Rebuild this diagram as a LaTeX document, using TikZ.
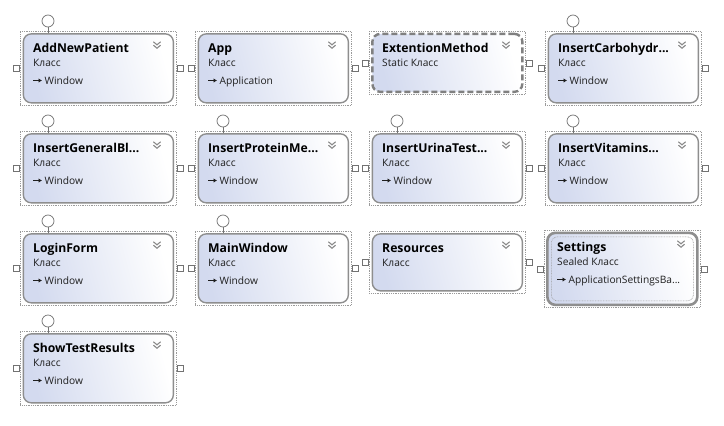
\documentclass[tikz,border=0pt]{standalone}
\usepackage{fontspec}
\setmainfont{Open Sans}
\usetikzlibrary{arrows.meta}
\definecolor{bordergray}{HTML}{8E8E8E}
\definecolor{dotgray}{HTML}{9A9A9A}
\definecolor{fillblue}{HTML}{D3DAEF}
\definecolor{txtgray}{HTML}{1E1E1E}
\definecolor{chevgray}{HTML}{8A8A8A}
\tikzset{
  outerbox/.style={draw=dotgray, line width=0.7pt, dash pattern=on 0.9pt off 0.9pt, minimum width=156pt, inner sep=0pt, anchor=north west},
  innerbox/.style={draw=bordergray, line width=1.4pt, rounded corners=8pt, left color=fillblue, right color=white, shading angle=105, minimum width=150pt, inner sep=0pt},
  dashbox/.style={line width=2.4pt, dash pattern=on 6pt off 3pt, draw=bordergray!90!black},
  sealbox/.style={line width=2.6pt, draw=bordergray},
  titletxt/.style={font=\bfseries\fontsize{12.2}{14}\selectfont, text=black, anchor=base west, inner sep=0pt},
  kindtxt/.style={font=\fontsize{10.2}{12}\selectfont, text=txtgray, anchor=base west, inner sep=0pt},
  basetxt/.style={font=\fontsize{10.2}{12}\selectfont, text=txtgray, anchor=base west, inner sep=0pt},
  port/.style={draw=bordergray!80!black, fill=white, line width=0.6pt, minimum size=6pt, inner sep=0pt},
  lolli/.style={circle, draw=bordergray!80!black, fill=white, line width=0.7pt, minimum size=12pt, inner sep=0pt},
  chev/.style={draw=chevgray, line width=1.1pt},
  inh/.style={draw=txtgray, line width=0.8pt, -{Latex[length=3.4pt,width=4.4pt]}},
}
% #1 id, #2 x, #3 y, #4 outer height, #5 extra inner style, #6 title, #7 kind
\newcommand\classbox[7]{%
  \node[outerbox, minimum height=#4pt] (#1) at (#2,#3) {};
  \node[innerbox, #5, minimum height={#4pt-5pt}] (#1-in) at (#1.center) {};
  \node[titletxt] (#1-t) at ([xshift=13pt,yshift=-21pt]#1.north west) {#6};
  \node[kindtxt] (#1-k) at ([xshift=13pt,yshift=-35pt]#1.north west) {#7};
  \node[port, anchor=east] (#1-pl) at (#1.west) {};
  \node[port, anchor=west] (#1-pr) at (#1.east) {};
  \coordinate (#1-ch) at ([xshift=137pt,yshift=-14pt]#1.north west);
  \draw[chev] ([xshift=-3.6pt,yshift=3.2pt]#1-ch) -- ([yshift=0.2pt]#1-ch) -- ([xshift=3.6pt,yshift=3.2pt]#1-ch);
  \draw[chev] ([xshift=-3.6pt,yshift=-0.2pt]#1-ch) -- ([yshift=-3.2pt]#1-ch) -- ([xshift=3.6pt,yshift=-0.2pt]#1-ch);
}
% #1 id, #2 base class text
\newcommand\basecls[2]{%
  \coordinate (#1-a0) at ([xshift=13pt,yshift=-49.5pt]#1.north west);
  \coordinate (#1-a1) at ([xshift=22pt,yshift=-49.5pt]#1.north west);
  \draw[inh] (#1-a0) -- (#1-a1);
  \node[basetxt] (#1-b) at ([xshift=24.5pt,yshift=-53pt]#1.north west) {#2};
}
\newcommand\lollipop[1]{%
  \node[lolli] (#1-o) at ([xshift=28pt,yshift=10pt]#1.north west) {};
  \draw[draw=bordergray!80!black, line width=0.7pt] (#1-o.south) -- (#1-o.south |- #1-in.north);
}
\begin{document}
\begin{tikzpicture}[x=1pt,y=-1pt]
\useasboundingbox[fill=white] (0,0) rectangle (724,426);
% row 1
\classbox{anp}{20}{31}{74}{}{AddNewPatient}{Класс}
\basecls{anp}{Window}\lollipop{anp}
\classbox{app}{195}{31}{74}{}{App}{Класс}
\basecls{app}{Application}
\classbox{ext}{369}{31}{63}{dashbox}{ExtentionMethod}{Static Класс}
\classbox{ich}{545}{31}{74}{}{InsertCarbohydr...}{Класс}
\basecls{ich}{Window}\lollipop{ich}
% row 2
\classbox{igb}{20}{131}{74}{}{InsertGeneralBl...}{Класс}
\basecls{igb}{Window}\lollipop{igb}
\classbox{ipm}{195}{131}{74}{}{InsertProteinMe...}{Класс}
\basecls{ipm}{Window}\lollipop{ipm}
\classbox{iut}{369}{131}{74}{}{InsertUrinaTest...}{Класс}
\basecls{iut}{Window}\lollipop{iut}
\classbox{ivt}{545}{131}{74}{}{InsertVitamins...}{Класс}
\basecls{ivt}{Window}\lollipop{ivt}
% row 3
\classbox{lgf}{20}{231}{74}{}{LoginForm}{Класс}
\basecls{lgf}{Window}\lollipop{lgf}
\classbox{mwn}{195}{231}{74}{}{MainWindow}{Класс}
\basecls{mwn}{Window}\lollipop{mwn}
\classbox{res}{369}{231}{62}{}{Resources}{Класс}
\classbox{set}{544}{230}{77}{sealbox}{Settings}{Sealed Класс}
\basecls{set}{ApplicationSettingsBa...}
\node[draw=dotgray, line width=0.6pt, dash pattern=on 0.8pt off 0.8pt, rounded corners=6pt, minimum width=142pt, minimum height=64pt, inner sep=0pt] (set-dot) at (set.center) {};
% row 4
\classbox{str}{20}{331}{74}{}{ShowTestResults}{Класс}
\basecls{str}{Window}\lollipop{str}
\end{tikzpicture}
\end{document}
